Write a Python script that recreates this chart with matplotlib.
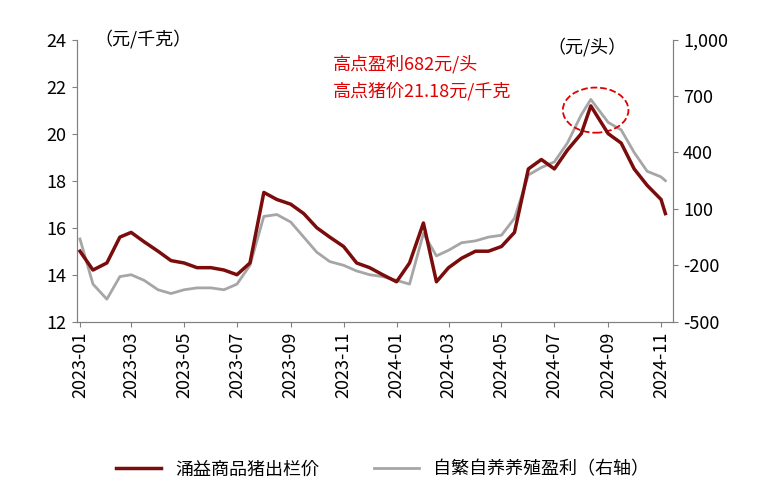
import matplotlib
matplotlib.use('Agg')
import matplotlib.pyplot as plt
import matplotlib.dates as mdates
from matplotlib import font_manager
from matplotlib.patches import Ellipse
import pandas as pd

# pick whichever CJK family is actually registered
cjk = sorted({f.name for f in font_manager.fontManager.ttflist if 'CJK' in f.name})
pref = [n for n in cjk if n.endswith('SC')] or cjk
plt.rcParams['font.family'] = pref[:1] + ['DejaVu Sans']

# semi-monthly observations, 2023-01 .. 2024-11
dates = pd.to_datetime([
    '2023-01-01', '2023-01-16', '2023-02-01', '2023-02-16', '2023-03-01', '2023-03-16',
    '2023-04-01', '2023-04-16', '2023-05-01', '2023-05-16', '2023-06-01', '2023-06-16',
    '2023-07-01', '2023-07-16', '2023-08-01', '2023-08-16', '2023-09-01', '2023-09-16',
    '2023-10-01', '2023-10-16', '2023-11-01', '2023-11-16', '2023-12-01', '2023-12-16',
    '2024-01-01', '2024-01-16', '2024-02-01', '2024-02-16', '2024-03-01', '2024-03-16',
    '2024-04-01', '2024-04-16', '2024-05-01', '2024-05-16', '2024-06-01', '2024-06-16',
    '2024-07-01', '2024-07-16', '2024-08-01', '2024-08-12', '2024-09-01', '2024-09-16',
    '2024-10-01', '2024-10-16', '2024-11-01', '2024-11-06'])

price = [15.0, 14.2, 14.5, 15.6, 15.8, 15.4, 15.0, 14.6, 14.5, 14.3, 14.3, 14.2,
         14.0, 14.5, 17.5, 17.2, 17.0, 16.6, 16.0, 15.6, 15.2, 14.5, 14.3, 14.0,
         13.7, 14.5, 16.2, 13.7, 14.3, 14.7, 15.0, 15.0, 15.2, 15.8, 18.5, 18.9,
         18.5, 19.3, 20.0, 21.18, 20.0, 19.6, 18.5, 17.8, 17.2, 16.6]

profit = [-60, -300, -380, -260, -250, -280, -330, -350, -330, -320, -320, -330,
          -300, -200, 60, 70, 30, -50, -130, -180, -200, -230, -250, -260,
          -280, -300, -30, -150, -120, -80, -70, -50, -40, 50, 280, 320,
          350, 450, 600, 682, 560, 520, 400, 300, 270, 250]

fig, ax = plt.subplots(figsize=(7.65, 4.95), dpi=100)
fig.subplots_adjust(left=0.1, right=0.88, top=0.92, bottom=0.35)
ax2 = ax.twinx()

ax2.plot(dates, profit, color='#a6a6a6', lw=2, label='自繁自养养殖盈利（右轴）')
ax.plot(dates, price, color='#7b0c0c', lw=2.5, label='涌益商品猪出栏价')
ax.set_zorder(ax2.get_zorder() + 1)
ax.patch.set_visible(False)

ax.set_ylim(12, 24)
ax.set_yticks(range(12, 25, 2))
ax2.set_ylim(-500, 1000)
ax2.set_yticks(range(-500, 1001, 300))
ax2.set_yticklabels([f'{v:,}' for v in range(-500, 1001, 300)])
ax.set_xlim(pd.Timestamp('2022-12-28'), pd.Timestamp('2024-11-15'))
ax.xaxis.set_major_locator(mdates.MonthLocator(bymonth=[1, 3, 5, 7, 9, 11]))
ax.xaxis.set_major_formatter(mdates.DateFormatter('%Y-%m'))
for lbl in ax.get_xticklabels():
    lbl.set_rotation(90)

for a in (ax, ax2):
    a.spines['top'].set_visible(False)
    for s in ('left', 'right', 'bottom'):
        a.spines[s].set_color('#808080')
    a.tick_params(labelsize=13, color='#808080')

ax.text(0.03, 0.97, '（元/千克）', transform=ax.transAxes, fontsize=13, va='bottom')
ax.text(0.79, 0.94, '（元/头）', transform=ax.transAxes, fontsize=13, va='bottom')
ax.text(0.43, 0.8, '高点盈利682元/头\n高点猪价21.18元/千克', transform=ax.transAxes,
        fontsize=13, color='#e00000', linespacing=1.5)
ax.add_patch(Ellipse((0.87, 0.75), 0.11, 0.16, transform=ax.transAxes, fill=False,
                     ls='--', ec='#e00000', lw=1.3))

h1, l1 = ax.get_legend_handles_labels()
h2, l2 = ax2.get_legend_handles_labels()
fig.legend(h1 + h2, l1 + l2, loc='lower center', ncol=2, frameon=False,
           fontsize=13, bbox_to_anchor=(0.5, 0.0), handlelength=2.5, columnspacing=3)

fig.savefig('out.png')
